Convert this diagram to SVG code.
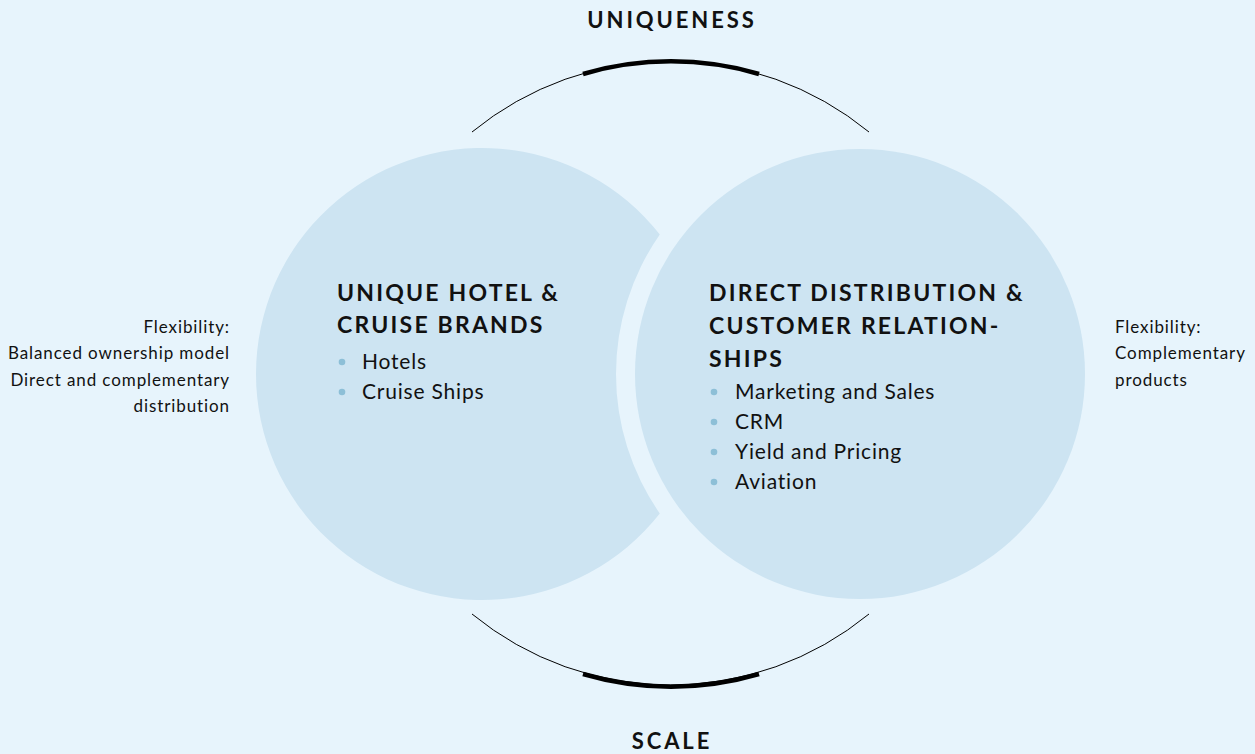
<svg xmlns="http://www.w3.org/2000/svg" width="1255" height="754" viewBox="0 0 1255 754">
<style>
.bg{fill:#e7f4fc}
.circ{fill:#cde4f2}
.thin{fill:none;stroke:#000;stroke-width:1}
.thick{fill:none;stroke:#000;stroke-width:4.5}
.h{font-family:Lato,"Open Sans",sans-serif;font-weight:bold;font-size:23px;letter-spacing:2.2px;fill:#111}
.k{font-family:Lato,"Open Sans",sans-serif;font-weight:bold;font-size:22px;letter-spacing:2.9px;fill:#111}
.t{font-family:Lato,"Open Sans",sans-serif;font-size:21px;letter-spacing:0.8px;fill:#111}
.s{font-family:Lato,"Open Sans",sans-serif;font-size:17px;letter-spacing:0.9px;fill:#111}
.dot{fill:#8dbfd7}
</style>
<rect class="bg" x="0" y="0" width="1255" height="754"/>
<g id="connectors">
<path class="thin" d="M 472 132 A 313 313 0 0 1 869 132"/>
<path class="thick" d="M 583 74 A 313 313 0 0 1 759 74"/>
<path class="thin" d="M 472 614 A 313 313 0 0 0 869 614"/>
<path class="thick" d="M 583 674 A 313 313 0 0 0 759 674"/>
</g>
<g id="label-uniqueness">
<text class="k" x="672" y="28" text-anchor="middle">UNIQUENESS</text>
</g>
<g id="label-scale">
<text class="k" x="672" y="749" text-anchor="middle">SCALE</text>
</g>
<g id="node-left">
<path class="circ" d="M 659.8 234.5 A 226 226 0 1 0 659.8 513.5 A 244 244 0 0 1 659.8 234.5 Z"/>
<text class="h" x="337" y="301">UNIQUE HOTEL &amp;</text>
<text class="h" x="337" y="333">CRUISE BRANDS</text>
<circle class="dot" cx="342" cy="362" r="3.3"/>
<text class="t" x="362" y="369">Hotels</text>
<circle class="dot" cx="342" cy="392" r="3.3"/>
<text class="t" x="362" y="399">Cruise Ships</text>
</g>
<g id="node-right">
<circle class="circ" cx="860" cy="374" r="225"/>
<text class="h" x="709" y="301">DIRECT DISTRIBUTION &amp;</text>
<text class="h" x="709" y="334">CUSTOMER RELATION-</text>
<text class="h" x="709" y="367">SHIPS</text>
<circle class="dot" cx="714" cy="392" r="3.3"/>
<text class="t" x="735" y="399">Marketing and Sales</text>
<circle class="dot" cx="714" cy="422" r="3.3"/>
<text class="t" x="735" y="429">CRM</text>
<circle class="dot" cx="714" cy="452" r="3.3"/>
<text class="t" x="735" y="459">Yield and Pricing</text>
<circle class="dot" cx="714" cy="482" r="3.3"/>
<text class="t" x="735" y="489">Aviation</text>
</g>
<g id="note-left">
<text class="s" text-anchor="end" x="230" y="333">Flexibility:</text>
<text class="s" text-anchor="end" x="230" y="359">Balanced ownership model</text>
<text class="s" text-anchor="end" x="230" y="386">Direct and complementary</text>
<text class="s" text-anchor="end" x="230" y="412">distribution</text>
</g>
<g id="note-right">
<text class="s" x="1115" y="333">Flexibility:</text>
<text class="s" x="1115" y="359">Complementary</text>
<text class="s" x="1115" y="386">products</text>
</g>
</svg>
